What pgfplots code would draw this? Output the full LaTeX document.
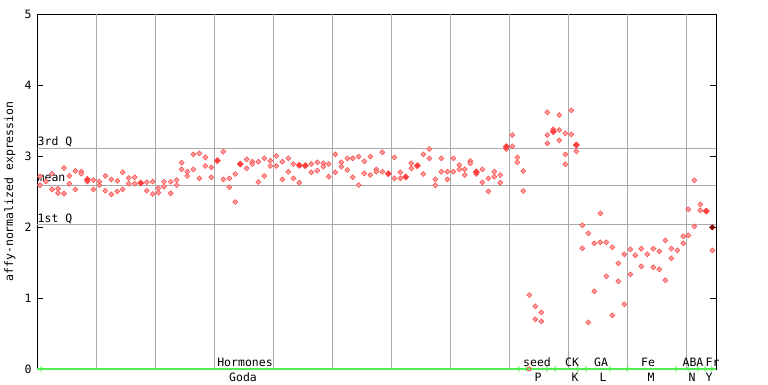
\documentclass[border=0pt]{standalone}
\usepackage{fontspec}
\setmonofont{DejaVu Sans Mono}
\usepackage{pgfplots}
\pgfplotsset{compat=1.18}
\definecolor{ptred}{RGB}{255,80,80}
\definecolor{ptfill}{RGB}{255,160,160}
\definecolor{solidred}{RGB}{255,64,64}
\definecolor{gridgray}{RGB}{170,170,170}
\definecolor{arrgreen}{RGB}{80,240,80}
\newcommand{\lf}{\ttfamily\fontsize{11.5}{12}\selectfont}
\tikzset{
  toplab/.style={font=\lf, anchor=base, inner sep=0pt, yshift=2.5pt},
  botlab/.style={font=\lf, anchor=north, inner sep=0pt, yshift=-3.5pt},
}
\begin{document}
\begin{tikzpicture}[x=1pt,y=1pt]
\useasboundingbox (0,0) rectangle (768,384);
\begin{axis}[
  at={(37pt,15pt)}, anchor=south west,
  scale only axis, width=679pt, height=355pt,
  xmin=37, xmax=716, ymin=0, ymax=5,
  clip=false,
  xtick=\empty,
  ytick={0,1,2,3,4,5},
  ytick pos=both,
  yticklabel pos=left,
  tick align=inside,
  major tick length=6pt,
  tick style={line width=1pt, black},
  axis line style={line width=1pt},
  /pgf/number format/assume math mode=true,
  yticklabel style={font=\lf, xshift=-2pt},
  ylabel={affy-normalized expression},
  ylabel style={font=\lf, at={(axis description cs:-0.0398,0.5)}, anchor=center},
]
% vertical grid
\pgfplotsinvokeforeach{96.3,155.3,214.3,273.3,332.3,391.3,450.3,509.3,568.3,627.3,686.3}{
  \draw[gridgray, line width=1pt] (axis cs:#1,0) -- (axis cs:#1,5);
}
% reference lines
\draw[gridgray, line width=1pt] (axis cs:37,3.108) -- (axis cs:716,3.108);
\draw[gridgray, line width=1pt] (axis cs:37,2.59) -- (axis cs:716,2.59);
\draw[gridgray, line width=1pt] (axis cs:37,2.04) -- (axis cs:716,2.04);
\node[font=\lf, anchor=base west, inner sep=0pt, yshift=2.5pt] at (axis cs:37.5,3.108) {3rd Q};
\node[font=\lf, anchor=base west, inner sep=0pt, yshift=4pt] at (axis cs:37.5,2.59) {mean};
\node[font=\lf, anchor=base west, inner sep=0pt, yshift=1.5pt] at (axis cs:37.5,2.04) {1st Q};
% green group line
\draw[arrgreen, line width=1.5pt] (axis cs:37,0) -- (axis cs:716,0);
\draw[arrgreen, line width=1pt, <->] (axis cs:39,0) -- (axis cs:521,0);
\draw[arrgreen, line width=1pt, <->] (axis cs:524,0) -- (axis cs:549,0);
\draw[arrgreen, line width=1pt, <->] (axis cs:553,0) -- (axis cs:580,0);
\draw[arrgreen, line width=1pt, <->] (axis cs:584,0) -- (axis cs:612,0);
\draw[arrgreen, line width=1pt, <->] (axis cs:625,0) -- (axis cs:678,0);
\draw[arrgreen, line width=1pt, <->] (axis cs:686,0) -- (axis cs:700,0);
\draw[arrgreen, line width=1pt, <->] (axis cs:703,0) -- (axis cs:714,0);
% group labels
\node[toplab] at (axis cs:245,0) {Hormones};
\node[toplab] at (axis cs:537,0) {seed};
\node[toplab] at (axis cs:572,0) {CK};
\node[toplab] at (axis cs:601,0) {GA};
\node[toplab] at (axis cs:648,0) {Fe};
\node[toplab] at (axis cs:693,0) {ABA};
\node[toplab] at (axis cs:712.5,0) {Fr};
\node[botlab] at (axis cs:243,0) {Goda};
\node[botlab] at (axis cs:538,0) {P};
\node[botlab] at (axis cs:575,0) {K};
\node[botlab] at (axis cs:603,0) {L};
\node[botlab] at (axis cs:651,0) {M};
\node[botlab] at (axis cs:692,0) {N};
\node[botlab] at (axis cs:709,0) {Y};
% data
\addplot[only marks, mark=square*, mark size=1.75pt,
  mark options={rotate=45, draw=ptred, fill=ptfill, line width=0.6pt}] coordinates {
(40,2.71)(40,2.59)(46,2.64)(52,2.75)(52,2.53)(58,2.54)(58,2.48)(64,2.83)(64,2.47)
(69.3,2.72)(69.3,2.61)(75.3,2.79)(75.3,2.53)(81.3,2.78)(81.3,2.75)(87.3,2.64)
(93.3,2.66)(93.3,2.53)(99.3,2.64)(99.3,2.59)(105.3,2.72)(105.3,2.51)(111.3,2.67)
(111.3,2.46)(117.3,2.65)(117.3,2.50)(122.7,2.77)(122.7,2.53)(128.7,2.69)(128.7,2.61)
(134.7,2.70)(134.7,2.61)(146.7,2.63)(146.7,2.51)(152.7,2.64)(152.7,2.465)
(158.3,2.545)(158.3,2.484)(164,2.638)(164,2.568)(170.7,2.638)(170.7,2.474)
(176.7,2.662)(176.7,2.592)(181.7,2.906)(181.7,2.812)(187.3,2.779)(187.3,2.718)
(193.3,3.023)(193.3,2.812)(199.3,3.038)(199.3,2.685)(205.3,2.981)(205.3,2.859)
(211.3,2.840)(211.3,2.700)(223.3,3.061)(223.3,2.671)(229.3,2.685)(229.3,2.559)
(235.3,2.746)(235.3,2.352)(246.7,2.953)(246.7,2.826)(252.3,2.920)(252.3,2.887)
(258.3,2.920)(258.3,2.634)(264.3,2.967)(264.3,2.718)(270.3,2.934)(270.3,2.859)
(276.3,3.0)(276.3,2.859)(282.3,2.920)(282.3,2.671)(288.3,2.967)(288.3,2.779)
(293.3,2.887)(293.3,2.685)(299.3,2.624)(311.3,2.887)(311.3,2.770)(317.3,2.911)
(317.3,2.793)(323.3,2.897)(323.3,2.850)(328.7,2.887)(328.7,2.709)(335.3,3.023)
(335.3,2.770)(341.3,2.911)(341.3,2.850)(347.3,2.967)(347.3,2.803)(352.7,2.967)
(352.7,2.700)(358.7,2.991)(358.7,2.592)(364.3,2.925)(364.3,2.756)(370.3,2.991)
(370.3,2.732)(376.3,2.812)(376.3,2.779)(382.3,3.052)(382.3,2.779)(394.3,2.981)
(394.3,2.685)(400.3,2.770)(400.3,2.685)(411.3,2.897)(411.3,2.826)(423.3,3.023)
(423.3,2.746)(429.3,3.099)(429.3,2.967)(435.3,2.671)(435.3,2.587)(441.3,2.967)
(441.3,2.779)(447.3,2.779)(447.3,2.671)(453.3,2.967)(453.3,2.779)(459.3,2.873)
(459.3,2.812)(464.7,2.812)(464.7,2.732)(470.3,2.930)(470.3,2.897)(476.3,2.746)
(482.3,2.812)(482.3,2.629)(488.3,2.685)(488.3,2.502)(494.3,2.779)(494.3,2.709)
(500.3,2.732)(500.3,2.624)(506.3,3.099)(512.3,3.296)(512.3,3.136)(517.3,2.981)
(517.3,2.911)(523.3,2.789)(523.3,2.507)(529.3,1.042)(535.3,0.883)(535.3,0.700)
(541.3,0.798)(541.3,0.671)(547.3,3.615)(547.3,3.296)(547.3,3.178)(553.3,3.376)
(559.3,3.577)(559.3,3.366)(559.3,3.221)(565.3,3.319)(565.3,3.023)(565.3,2.883)
(571.3,3.643)(571.3,3.305)(576.3,3.066)(582.3,2.024)(582.3,1.700)(588.3,1.911)
(588.3,0.657)(594.3,1.770)(594.3,1.094)(600.3,2.192)(600.3,1.784)(606.3,1.784)
(606.3,1.305)(612.3,1.714)(612.3,0.756)(618.3,1.488)(618.3,1.235)(624.3,1.615)
(624.3,0.911)(630.3,1.685)(630.3,1.333)(635.3,1.601)(641.3,1.695)(641.3,1.446)
(647.3,1.615)(653.3,1.695)(653.3,1.432)(659.3,1.657)(659.3,1.404)(665.3,1.812)
(665.3,1.249)(671.3,1.695)(671.3,1.559)(677.3,1.671)(683.3,1.869)(683.3,1.770)
(688.3,2.249)(688.3,1.883)(694.3,2.657)(694.3,2.009)(700.3,2.319)(700.3,2.235)
(712.3,1.671)
};
\addplot[only marks, mark=square*, mark size=2.2pt,
  mark options={rotate=45, draw=solidred, fill=solidred, line width=0.5pt}] coordinates {
(87.3,2.67)(140.7,2.62)(217.3,2.934)(240.3,2.887)(299.3,2.869)(305.3,2.864)
(388.3,2.751)(405.7,2.705)(417.3,2.864)(476.3,2.775)(506.3,3.131)(553.3,3.343)
(576.3,3.155)(706.3,2.225)
};
\addplot[only marks, mark=square*, mark size=1.9pt,
  mark options={rotate=45, draw=red!60!black, fill=red!50!black}] coordinates {(712.3,1.995)};
\addplot[only marks, mark=o, mark size=2pt,
  mark options={draw=ptred, line width=0.8pt}] coordinates {(529.3,0)};
\end{axis}
\end{tikzpicture}
\end{document}
